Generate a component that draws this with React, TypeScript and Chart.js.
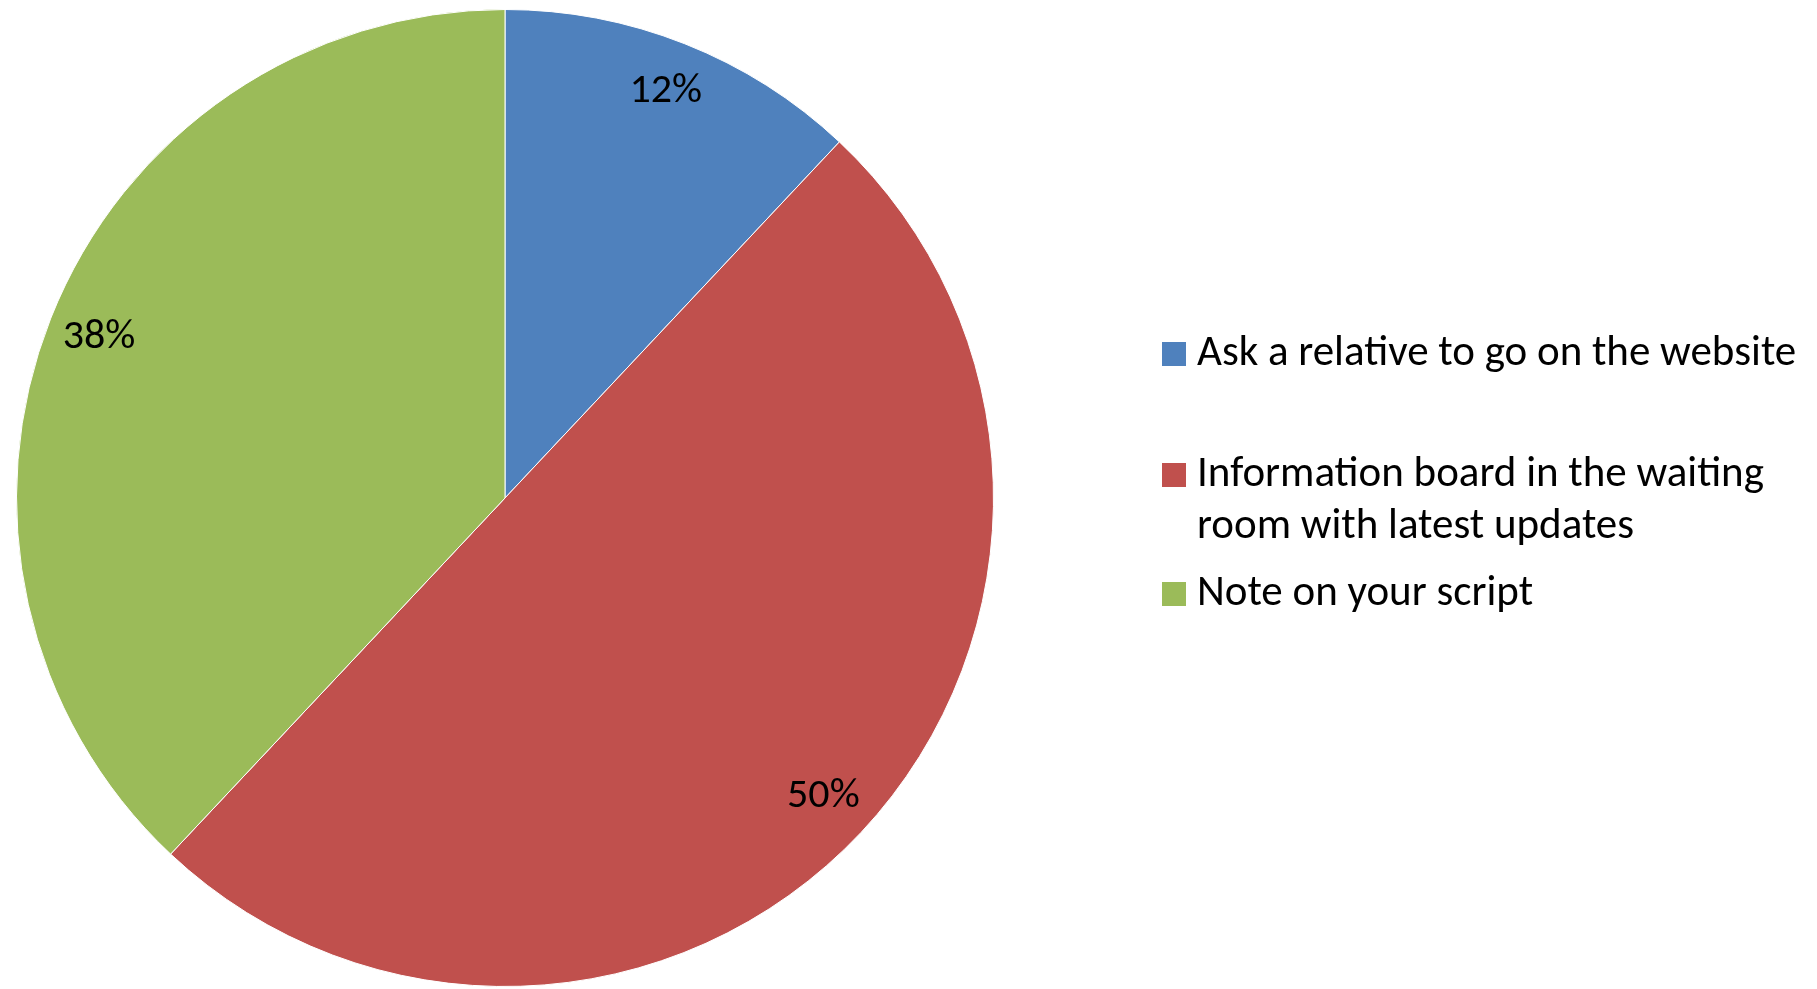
import { useEffect, useRef } from "react";
import { Chart, ArcElement, PieController } from "chart.js";

Chart.register(ArcElement, PieController);

const categories = [
  "Ask a relative to go on the website",
  "Information board in the waiting room with latest updates",
  "Note on your script",
];
const legendLines = [
  ["Ask a relative to go on the website"],
  ["Information board in the waiting", "room with latest updates"],
  ["Note on your script"],
];
const values = [12, 50, 38];
const percentLabels = ["12%", "50%", "38%"];
const colors = ["#4F81BD", "#C0504D", "#9BBB59"];

const FONT = "Carlito, Calibri, Lato, sans-serif";

const sliceLabelPlugin = {
  id: "sliceLabels",
  afterDatasetsDraw(chart: any) {
    const ctx = chart.ctx;
    const meta = chart.getDatasetMeta(0);
    ctx.save();
    ctx.fillStyle = "#000000";
    ctx.font = `42px ${FONT}`;
    ctx.textAlign = "center";
    ctx.textBaseline = "middle";
    meta.data.forEach((arc: any, i: number) => {
      const p = arc.getProps(["x", "y", "startAngle", "endAngle", "outerRadius"], true);
      const mid = (p.startAngle + p.endAngle) / 2;
      const r = p.outerRadius * 0.894;
      ctx.fillText(percentLabels[i], p.x + Math.cos(mid) * r, p.y + Math.sin(mid) * r);
    });
    ctx.restore();
  },
};

const legendPlugin = {
  id: "sideLegend",
  afterDraw(chart: any) {
    const ctx = chart.ctx;
    const boxX = 1162;
    const box = 24;
    const textX = 1197;
    const lineH = 52;
    const rowStarts = [354, 475, 594];
    ctx.save();
    ctx.font = `43px ${FONT}`;
    ctx.textAlign = "left";
    ctx.textBaseline = "middle";
    legendLines.forEach((lines, i) => {
      const y0 = rowStarts[i];
      ctx.fillStyle = colors[i];
      ctx.fillRect(boxX, y0 - box / 2, box, box);
      ctx.fillStyle = "#000000";
      lines.forEach((t, j) => ctx.fillText(t, textX, y0 + j * lineH));
    });
    ctx.restore();
  },
};

export default function App() {
  const ref = useRef<HTMLCanvasElement | null>(null);
  useEffect(() => {
    if (!ref.current) return;
    const chart = new Chart(ref.current, {
      type: "pie",
      data: {
        labels: categories,
        datasets: [
          {
            data: values,
            backgroundColor: colors,
            borderColor: "#ffffff",
            borderWidth: 1,
          },
        ],
      },
      options: {
        responsive: false,
        animation: false,
        layout: { padding: { left: 16, top: 9, right: 823, bottom: 2 } },
        plugins: { legend: { display: false }, tooltip: { enabled: false } },
      },
      plugins: [sliceLabelPlugin, legendPlugin],
    });
    return () => chart.destroy();
  }, []);
  return (
    <div style={{ position: "fixed", left: 0, top: 0, width: 1817, height: 989, background: "#ffffff" }}>
      <canvas ref={ref} width={1817} height={989} style={{ width: 1817, height: 989 }} />
    </div>
  );
}
